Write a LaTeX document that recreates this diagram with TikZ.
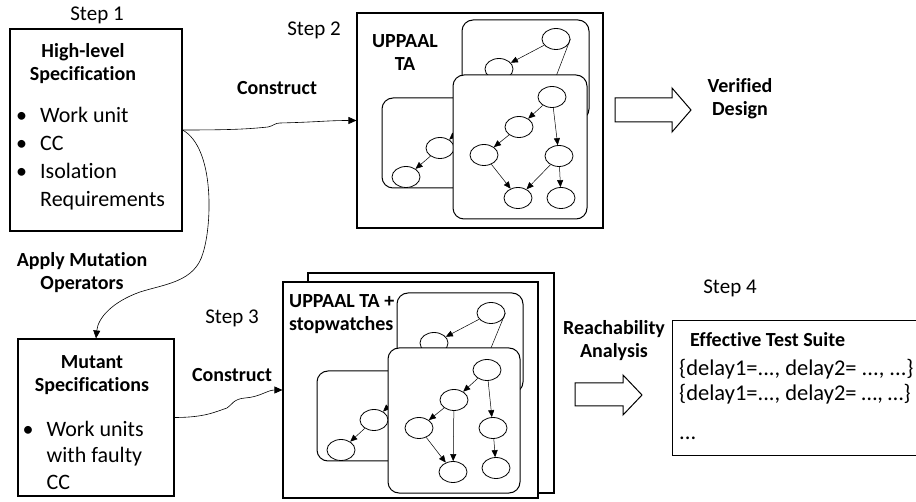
\documentclass[tikz,border=0pt]{standalone}
\usepackage{fontspec}
\setmainfont{Carlito}[Ligatures=NoCommon]
\usetikzlibrary{arrows.meta,shapes.geometric}

\newcommand{\itm}{\makebox[24pt][l]{\textbullet}}
\newcommand{\cont}{\hspace*{24pt}}

\begin{document}
\begin{tikzpicture}[x=1pt,y=-1pt]
\tikzset{
  box/.style={draw,line width=1.1pt,inner sep=0pt},
  panel/.style={draw,fill=white,rounded corners=11pt,line width=1pt},
  loc/.style={ellipse,draw,fill=white,line width=0.8pt,minimum width=28pt,minimum height=21pt,inner sep=0pt},
  tr/.style={-{Triangle[length=7pt,width=6pt]},line width=0.5pt},
  conn/.style={-{Triangle[length=8pt,width=7pt]},line width=0.6pt},
  steplabel/.style={font=\fontsize{21}{25}\selectfont,inner sep=0pt},
  hd/.style={font=\fontsize{20}{23}\selectfont\bfseries,align=center,inner sep=0pt},
  itemtext/.style={font=\fontsize{22}{28}\selectfont,align=left,anchor=north west,inner sep=0pt},
  hollow/.style={draw,line width=1pt,fill=white}
}
\useasboundingbox (0,0) rectangle (916,502);

% step 1: the specification
\node[steplabel] (s1) at (97,15) {Step 1};
\node[box,minimum width=172pt,minimum height=202pt] (spec) at (96,130) {};
\node[hd,anchor=north] (spechd) at (83,43) {High-level\\Specification};
\node[itemtext] (specitems) at (16,107) {\itm Work unit\\ \itm CC\\ \itm Isolation\\ \cont Requirements};

% step 2: timed automata
\node[steplabel] (s2) at (314,30) {Step 2};
\node[box,minimum width=246pt,minimum height=215pt] (ta) at (480,120.5) {};
\node[hd] (talbl) at (405,53) {UPPAAL\\TA};

\draw[panel] (462,20) rectangle (589,120);
\node[loc] (a1) at (556,39) {};
\node[loc] (a2) at (499,69) {};
\coordinate (a3) at (547,100);
\draw[tr] (a1) -- (a2);
\draw[line width=0.5pt] (a1.east) -- (a3);

\draw[panel] (382,98) rectangle (475,188);
\node[loc] (b1) at (440,148) {};
\node[loc] (b2) at (406,177) {};
\coordinate (b0) at (473,118);
\draw[tr] (b0) -- (b1);
\draw[tr] (b1) -- (b2);

\draw[panel] (453,75) rectangle (587,219);
\foreach \n/\x/\y in {c1/552/97,c2/519/127,c3/484/155,c4/559/156,c5/518/198,c6/561/198}
  \node[loc] (\n) at (\x,\y) {};
\foreach \u/\v in {c1/c2,c1/c4,c2/c3,c3/c5,c4/c5,c4/c6}
  \draw[tr] (\u) -- (\v);

\draw[hollow] (615,98) -- (672,98) -- (672,88) -- (691,110) -- (672,132) -- (672,122) -- (615,122) -- cycle;
\node[hd] (verified) at (740,99) {Verified\\Design};

\node[hd] (construct1) at (277,88) {Construct};
\draw[conn] (spec.east) .. controls +(50,0) and +(-20,2) .. (268,127)
  .. controls +(5,-1) and +(-5,0) .. (280,123) .. controls +(40,-1) and +(-30,0) .. (ta.west);

% mutation
\node[hd] (mutlbl) at (82,273) {Apply Mutation\\Operators};
\node[box,minimum width=156pt,minimum height=157pt] (mutspec) at (96,417.5) {};
\draw[conn] (spec.east) .. controls (215,148) and (212,225) .. (203,253)
  .. controls (195,282) and (165,284) .. (140,292) .. controls (112,302) and (98,318) .. (mutspec.north);
\node[hd,anchor=north] (muthd) at (92,355) {Mutant\\Specifications};
\node[itemtext,font=\fontsize{22}{26.5}\selectfont] (mutitems) at (22.5,421) {\itm Work units\\ \cont with faulty\\ \cont CC};

% step 3: timed automata with stopwatches
\node[steplabel] (s3) at (232,318) {Step 3};
\node[hd] (construct2) at (232,375) {Construct};
\draw[box,fill=white] (308,273) rectangle (554,493);
\node[box,fill=white,minimum width=255pt,minimum height=216pt] (tasw) at (410.5,390) {};
\draw[conn] (mutspec.east) .. controls +(30,0) and +(-12,4) .. (227,408)
  .. controls +(5,-3) and +(-12,1) .. (245,398) .. controls +(15,-1) and +(-15,0) .. (tasw.west);
\node[hd,align=left,anchor=west] (swlbl) at (289,314) {UPPAAL TA +\\stopwatches};

\draw[panel] (397,293) rectangle (523,393);
\node[loc] (d1) at (491,313) {};
\node[loc] (d2) at (434,343) {};
\coordinate (d3) at (486,360);
\draw[tr] (d1) -- (d2);
\draw[line width=0.5pt] (d1.east) -- (d3);

\draw[panel] (317,371) rectangle (400,461);
\node[loc] (e1) at (374,420) {};
\node[loc] (e2) at (341,450) {};
\coordinate (e0) at (405,391);
\draw[tr] (e0) -- (e1);
\draw[tr] (e1) -- (e2);

\draw[panel] (388,348) rectangle (520,493);
\foreach \n/\x/\y in {g1/487/370,g2/454/400,g3/419/428,g4/493/428,g5/453/472,g6/496/468}
  \node[loc] (\n) at (\x,\y) {};
\foreach \u/\v in {g1/g2,g1/g4,g2/g3,g2/g5,g3/g5,g4/g6}
  \draw[tr] (\u) -- (\v);

% step 4: test suite
\node[hd] (reach) at (614,341) {Reachability\\Analysis};
\draw[hollow] (575,383) -- (623,383) -- (623,375) -- (642,395) -- (623,415) -- (623,406) -- (575,406) -- cycle;
\node[steplabel] (s4) at (730,288) {Step 4};
\node[box,anchor=north west,minimum width=260pt,minimum height=135pt] (suite) at (672,320) {};
\node[hd,anchor=west] (suitehd) at (690,340) {Effective Test Suite};
\node[itemtext,font=\fontsize{22.5}{25}\selectfont] (delays) at (679,359.5)
  {\{delay1=..., delay2= ..., ...\}\\ \{delay1=..., delay2= …, …\}\\[14pt] ...};
\end{tikzpicture}
\end{document}
